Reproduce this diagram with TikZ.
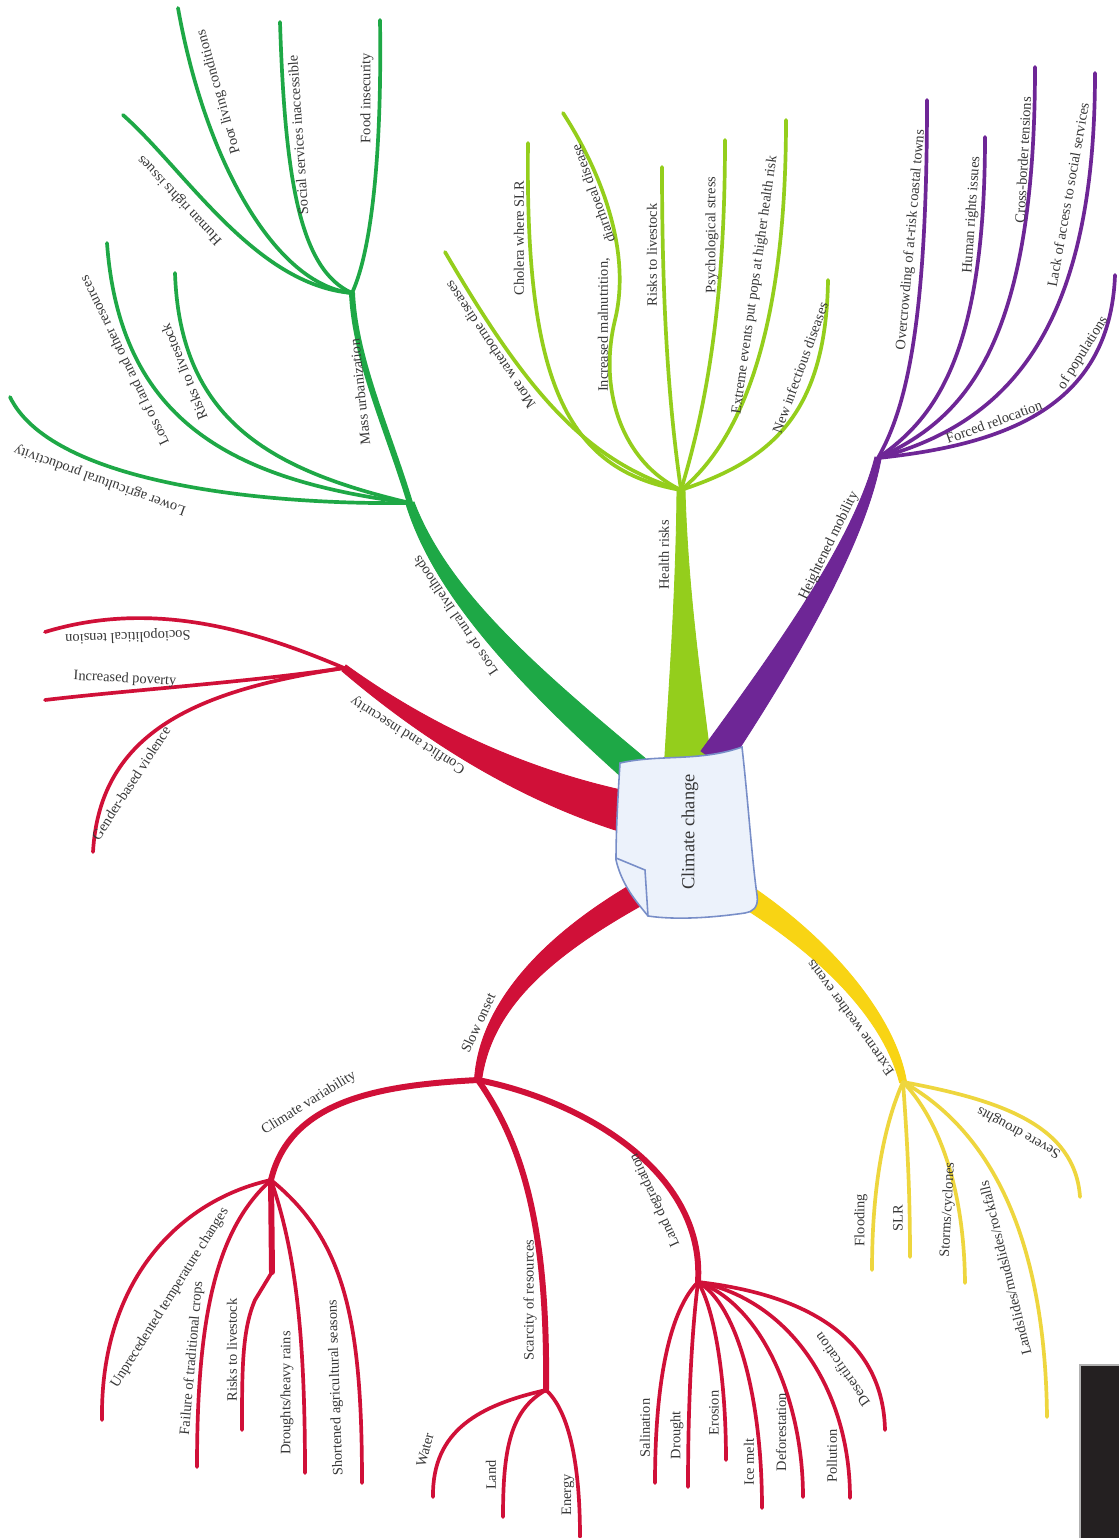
\documentclass[tikz,border=0pt]{standalone}
\usepackage{fontspec}
\setmainfont{Liberation Serif}
\usetikzlibrary{positioning}
\definecolor{livegreen}{RGB}{30,168,70}
\definecolor{limegreen}{RGB}{148,206,28}
\definecolor{mobpurple}{RGB}{110,38,150}
\definecolor{onsetred}{RGB}{208,16,56}
\definecolor{stormyellow}{RGB}{248,212,20}
\definecolor{paleyellow}{RGB}{238,214,62}
\definecolor{labelgray}{RGB}{55,55,55}
\definecolor{notefill}{RGB}{236,242,251}
\definecolor{noteedge}{RGB}{120,142,200}
\definecolor{darkbox}{RGB}{36,32,33}

\begin{document}
\begin{tikzpicture}[x=0.02cm, y=-0.02cm,
    trunk/.style={fill=#1, draw=#1, line width=0.5pt},
    bough/.style={draw=#1, line width=3.4pt, line cap=round},
    twig/.style={draw=#1, line width=2.1pt, line cap=round},
    lbl/.style={font=\fontsize{8.2}{9}\selectfont, text=labelgray, inner sep=0pt}
]
    \fill[white] (0,0) rectangle (1119,1538);
    \useasboundingbox (0,0) rectangle (1119,1538);

    % hubs
    \coordinate (loss) at (410,503);
    \coordinate (urban) at (352,293);
    \coordinate (health) at (681,490);
    \coordinate (mob) at (878,458);
    \coordinate (confl) at (344,668);
    \coordinate (slow) at (478,1080);
    \coordinate (clim) at (271,1180);
    \coordinate (scar) at (546,1390);
    \coordinate (degr) at (698,1282);
    \coordinate (extr) at (903,1082);

    % free ends
    \coordinate (lowprod) at (10,397);
    \coordinate (landres) at (107,243);
    \coordinate (livestockA) at (175,273);
    \coordinate (rightsA) at (123,115);
    \coordinate (poorliving) at (178,8);
    \coordinate (services) at (280,22);
    \coordinate (foodins) at (380,20);
    \coordinate (waterborne) at (445,252);
    \coordinate (cholera) at (528,143);
    \coordinate (malnut) at (563,113);
    \coordinate (livestockB) at (662,167);
    \coordinate (stress) at (725,140);
    \coordinate (pops) at (786,120);
    \coordinate (infect) at (828,280);
    \coordinate (crowding) at (927,100);
    \coordinate (rightsB) at (985,137);
    \coordinate (border) at (1035,67);
    \coordinate (access) at (1095,73);
    \coordinate (relocation) at (1115,275);
    \coordinate (tension) at (45,632);
    \coordinate (poverty) at (45,700);
    \coordinate (gender) at (93,852);
    \coordinate (temp) at (102,1420);
    \coordinate (crops) at (197,1467);
    \coordinate (livestockC) at (242,1430);
    \coordinate (rains) at (305,1473);
    \coordinate (seasons) at (362,1483);
    \coordinate (water) at (433,1497);
    \coordinate (land) at (503,1517);
    \coordinate (energy) at (580,1537);
    \coordinate (salin) at (655,1483);
    \coordinate (drought) at (688,1487);
    \coordinate (erosion) at (726,1460);
    \coordinate (icemelt) at (762,1508);
    \coordinate (defor) at (803,1497);
    \coordinate (pollut) at (850,1498);
    \coordinate (desert) at (885,1430);
    \coordinate (flood) at (872,1270);
    \coordinate (slr) at (910,1257);
    \coordinate (storms) at (965,1283);
    \coordinate (slides) at (1047,1417);
    \coordinate (severe) at (1080,1197);

    % main tapered branches
    \path[trunk=livegreen] (406,504) .. controls (433,592) and (512,679) .. (626,781)
        -- (646,759) .. controls (528,661) and (447,588) .. (414,502) -- cycle;
    \path[trunk=limegreen] (677,490) .. controls (676,600) and (668,700) .. (664,772)
        -- (712,772) .. controls (704,700) and (688,600) .. (685,490) -- cycle;
    \path[trunk=mobpurple] (875,457) .. controls (854,539) and (780,643) .. (701,751)
        -- (726,769) .. controls (800,657) and (866,541) .. (881,459) -- cycle;
    \path[trunk=onsetred] (342,671) .. controls (396,717) and (497,794) .. (625,833)
        -- (635,793) .. controls (503,766) and (404,707) .. (346,665) -- cycle;
    \path[trunk=onsetred] (474.5,1079.6) .. controls (479,1009) and (535,941) .. (632,884)
        -- (644,904) .. controls (545,959) and (491,1011) .. (481.5,1080.4) -- cycle;
    \path[trunk=stormyellow] (899.6,1082.7) .. controls (884,1021) and (825,958) .. (736,903)
        -- (748,884) .. controls (835,942) and (896,1019) .. (906.4,1081.3) -- cycle;

    % livelihoods
    \draw[bough=livegreen] (loss) .. controls (388,430) and (355,360) .. (urban);
    \draw[twig=livegreen] (loss) .. controls (250,505) and (50,480) .. (lowprod);
    \draw[twig=livegreen] (loss) .. controls (230,480) and (120,420) .. (landres);
    \draw[twig=livegreen] (loss) .. controls (270,470) and (180,420) .. (livestockA);
    \draw[twig=livegreen] (urban) .. controls (255,285) and (185,170) .. (rightsA);
    \draw[twig=livegreen] (urban) .. controls (275,285) and (205,160) .. (poorliving);
    \draw[twig=livegreen] (urban) .. controls (300,270) and (285,180) .. (services);
    \draw[twig=livegreen] (urban) .. controls (372,250) and (382,150) .. (foodins);

    % health
    \draw[twig=limegreen] (health) .. controls (580,460) and (520,380) .. (waterborne);
    \draw[twig=limegreen] (health) .. controls (565,470) and (525,380) .. (cholera);
    \draw[twig=limegreen] (health) .. controls (622,462) and (598,390) .. (615,320)
        .. controls (632,250) and (600,170) .. (malnut);
    \draw[twig=limegreen] (health) .. controls (668,400) and (662,300) .. (livestockB);
    \draw[twig=limegreen] (health) .. controls (702,420) and (725,320) .. (stress);
    \draw[twig=limegreen] (health) .. controls (742,440) and (786,330) .. (pops);
    \draw[twig=limegreen] (health) .. controls (765,462) and (826,420) .. (infect);

    % mobility
    \draw[twig=mobpurple] (mob) .. controls (905,410) and (927,330) .. (crowding);
    \draw[twig=mobpurple] (mob) .. controls (932,420) and (985,360) .. (rightsB);
    \draw[twig=mobpurple] (mob) .. controls (962,420) and (1035,350) .. (border);
    \draw[twig=mobpurple] (mob) .. controls (1000,425) and (1095,340) .. (access);
    \draw[twig=mobpurple] (mob) .. controls (1000,445) and (1110,410) .. (relocation);

    % conflict
    \draw[twig=onsetred] (confl) .. controls (250,628) and (150,600) .. (tension);
    \draw[twig=onsetred] (confl) .. controls (250,682) and (130,690) .. (poverty);
    \draw[twig=onsetred] (confl) .. controls (200,690) and (100,730) .. (gender);

    % slow onset
    \draw[bough=onsetred] (slow) .. controls (380,1085) and (290,1100) .. (clim);
    \draw[bough=onsetred] (slow) .. controls (520,1140) and (548,1220) .. (scar);
    \draw[bough=onsetred] (slow) .. controls (580,1100) and (705,1170) .. (degr);
    \draw[twig=onsetred] (clim) .. controls (180,1200) and (100,1280) .. (temp);
    \draw[twig=onsetred] (clim) .. controls (215,1230) and (197,1320) .. (crops);
    \draw[twig=onsetred] (clim) -- (272,1272) -- (255,1300)
        .. controls (242,1330) and (242,1370) .. (livestockC);
    \draw[bough=onsetred] (clim) -- (272,1272);
    \draw[twig=onsetred] (clim) .. controls (295,1250) and (305,1330) .. (rains);
    \draw[twig=onsetred] (clim) .. controls (345,1240) and (362,1320) .. (seasons);
    \draw[twig=onsetred] (scar) .. controls (480,1405) and (432,1430) .. (water);
    \draw[twig=onsetred] (scar) .. controls (510,1410) and (503,1450) .. (land);
    \draw[twig=onsetred] (scar) .. controls (568,1410) and (580,1460) .. (energy);
    \draw[twig=onsetred] (degr) .. controls (670,1310) and (655,1380) .. (salin);
    \draw[twig=onsetred] (degr) .. controls (692,1330) and (688,1400) .. (drought);
    \draw[twig=onsetred] (degr) .. controls (715,1310) and (726,1380) .. (erosion);
    \draw[twig=onsetred] (degr) .. controls (738,1305) and (762,1400) .. (icemelt);
    \draw[twig=onsetred] (degr) .. controls (762,1305) and (803,1400) .. (defor);
    \draw[twig=onsetred] (degr) .. controls (790,1300) and (850,1390) .. (pollut);
    \draw[twig=onsetred] (degr) .. controls (810,1295) and (883,1340) .. (desert);

    % extreme weather
    \draw[twig=paleyellow] (extr) .. controls (886,1120) and (872,1180) .. (flood);
    \draw[twig=paleyellow] (extr) .. controls (908,1150) and (910,1200) .. (slr);
    \draw[twig=paleyellow] (extr) .. controls (935,1115) and (964,1180) .. (storms);
    \draw[twig=paleyellow] (extr) .. controls (980,1125) and (1045,1220) .. (slides);
    \draw[twig=paleyellow] (extr) .. controls (1000,1100) and (1075,1125) .. (severe);

    % centre note
    \path[fill=notefill, draw=noteedge, line width=0.9pt]
        (620,763) .. controls (660,754) and (700,762) .. (742,747)
        .. controls (748,800) and (752,860) .. (757,895)
        .. controls (759,908) and (752,912) .. (745,913)
        .. controls (710,918) and (675,920) .. (648,916)
        .. controls (635,900) and (622,885) .. (616,860)
        .. controls (616,830) and (618,795) .. (620,763) -- cycle;
    \draw[noteedge, line width=0.9pt] (616,858) -- (645,870) -- (648,916);
    \node[font=\fontsize{10.5}{12}\selectfont, text=labelgray, rotate=90] (cc) at (690,832) {Climate change};

    % branch labels
    \node[lbl, rotate=124] (lossl) at (455,616) {Loss of rural livelihoods};
    \node[lbl, rotate=96] (urbanl) at (360,392) {Mass urbanization};
    \node[lbl, rotate=90] (healthl) at (664,555) {Health risks};
    \node[lbl, rotate=64] (mobl) at (829,546) {Heightened mobility};
    \node[lbl, rotate=148] (confll) at (408,735) {Conflict and insecurity};
    \node[lbl, rotate=65] (slowl) at (478,1023) {Slow onset};
    \node[lbl, rotate=32] (climl) at (309,1103) {Climate variability};
    \node[lbl, rotate=90] (scarl) at (530,1300) {Scarcity of resources};
    \node[lbl, rotate=115] (degrl) at (655,1200) {Land degradation};
    \node[lbl, rotate=126] (extrl) at (850,1018) {Extreme weather events};

    % leaf labels
    \node[lbl, rotate=160] (lowprodl) at (100,480) {Lower agricultural productivity};
    \node[lbl, rotate=116] (landresl) at (124,361) {Loss of land and other resources};
    \node[lbl, rotate=112] (livestockAl) at (184,372) {Risks to livestock};
    \node[lbl, rotate=133] (rightsAl) at (180,200) {Human rights issues};
    \node[lbl, rotate=106] (poorlivingl) at (219,92) {Poor living conditions};
    \node[lbl, rotate=94] (servicesl) at (298,135) {Social services inaccessible};
    \node[lbl, rotate=90] (foodinsl) at (367,98) {Food insecurity};
    \node[lbl, rotate=124] (waterbornel) at (490,345) {More waterborne diseases};
    \node[lbl, rotate=90] (choleral) at (519,238) {Cholera where SLR};
    \node[lbl, rotate=90] (malnutl) at (604,325) {Increased malnutrition,};
    \node[lbl, rotate=110] (malnutm) at (593,194) {diarrhoeal disease};
    \node[lbl, rotate=90] (livestockBl) at (652,255) {Risks to livestock};
    \node[lbl, rotate=90] (stressl) at (712,235) {Psychological stress};
    \node[lbl, rotate=82] (popsl) at (755,285) {Extreme events put pops at higher health risk};
    \node[lbl, rotate=70] (infectl) at (800,368) {New infectious diseases};
    \node[lbl, rotate=85] (crowdingl) at (911,240) {Overcrowding of at-risk coastal towns};
    \node[lbl, rotate=86] (rightsBl) at (972,215) {Human rights issues};
    \node[lbl, rotate=87] (borderl) at (1023,160) {Cross-border tensions};
    \node[lbl, rotate=80] (accessl) at (1068,195) {Lack of access to social services};
    \node[lbl, rotate=20] (relocationl) at (994,422) {Forced relocation};
    \node[lbl, rotate=58] (relocationm) at (1083,353) {of populations};
    \node[lbl, rotate=182] (tensionl) at (128,636) {Sociopolitical tension};
    \node[lbl, rotate=-3] (povertyl) at (125,679) {Increased poverty};
    \node[lbl, rotate=57] (genderl) at (131,783) {Gender-based violence};
    \node[lbl, rotate=58] (templ) at (170,1298) {Unprecedented temperature changes};
    \node[lbl, rotate=85] (cropsl) at (192,1358) {Failure of traditional crops};
    \node[lbl, rotate=90] (livestockCl) at (232,1350) {Risks to livestock};
    \node[lbl, rotate=90] (rainsl) at (287,1393) {Droughts/heavy rains};
    \node[lbl, rotate=92] (seasonsl) at (336,1388) {Shortened agricultural seasons};
    \node[lbl, rotate=75] (waterl) at (425,1450) {Water};
    \node[lbl, rotate=90] (landl) at (491,1475) {Land};
    \node[lbl, rotate=90] (energyl) at (568,1495) {Energy};
    \node[lbl, rotate=90] (salinl) at (645,1428) {Salination};
    \node[lbl, rotate=90] (droughtl) at (677,1435) {Drought};
    \node[lbl, rotate=90] (erosionl) at (714,1413) {Erosion};
    \node[lbl, rotate=90] (icemeltl) at (749,1462) {Ice melt};
    \node[lbl, rotate=90] (deforl) at (781,1432) {Deforestation};
    \node[lbl, rotate=90] (pollutl) at (832,1456) {Pollution};
    \node[lbl, rotate=125] (desertl) at (842,1370) {Desertification};
    \node[lbl, rotate=90] (floodl) at (861,1220) {Flooding};
    \node[lbl, rotate=90] (slrl) at (898,1218) {SLR};
    \node[lbl, rotate=87] (stormsl) at (948,1210) {Storms/cyclones};
    \node[lbl, rotate=104] (slidesl) at (1005,1268) {Landslides/mudslides/rockfalls};
    \node[lbl, rotate=151] (severel) at (1019,1132) {Severe droughts};

    % dark patch, lower right corner
    \fill[darkbox] (1080,1365) rectangle (1119,1538);
    \draw[gray!60, line width=0.6pt] (1080,1538) -- (1080,1365) -- (1119,1365);
\end{tikzpicture}
\end{document}
